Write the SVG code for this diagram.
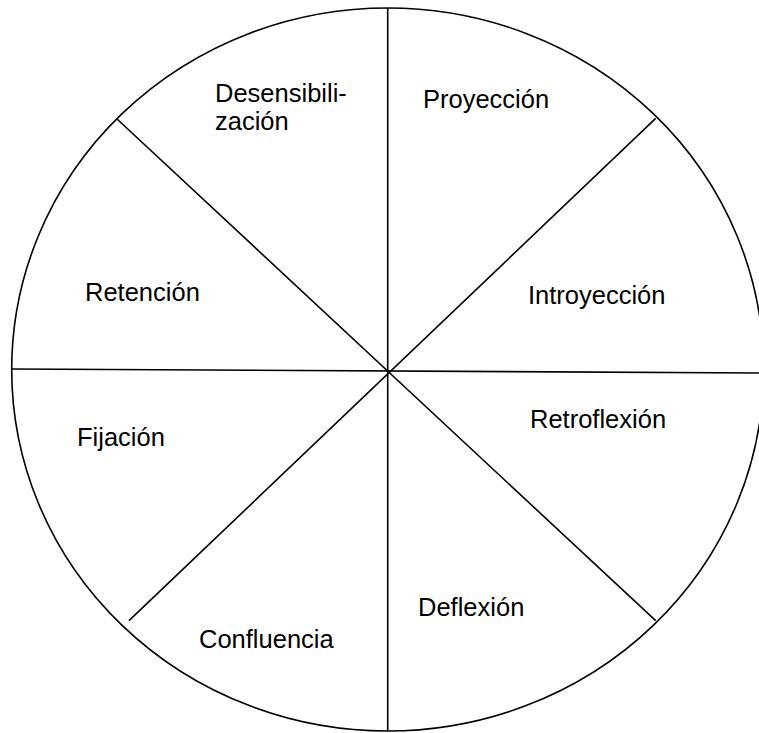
<svg xmlns="http://www.w3.org/2000/svg" width="759" height="733" viewBox="0 0 759 733">
<style>
.ln{stroke:#000;stroke-width:1.6;fill:none}
.t{font-family:"Liberation Sans",Arial,sans-serif;font-size:25.5px;fill:#000}
</style>
<rect width="759" height="733" fill="#fff"/>
<g id="wheel">
<ellipse class="ln" cx="387.7" cy="369.5" rx="376" ry="361.5"/>
</g>
<g id="connectors">
<line class="ln" x1="387.7" y1="8" x2="387.7" y2="731"/>
<line class="ln" x1="12" y1="369" x2="759" y2="373"/>
<line class="ln" x1="117" y1="119" x2="655.7" y2="620.7"/>
<line class="ln" x1="655.7" y1="118.3" x2="129" y2="620.7"/>
</g>
<g id="desensibilizacion"><text class="t" x="215" y="102">Desensibili-</text><text class="t" x="215" y="130">zación</text></g>
<g id="proyeccion"><text class="t" x="423" y="108">Proyección</text></g>
<g id="retencion"><text class="t" x="85" y="301">Retención</text></g>
<g id="introyeccion"><text class="t" x="528" y="304">Introyección</text></g>
<g id="retroflexion"><text class="t" x="530" y="428">Retroflexión</text></g>
<g id="fijacion"><text class="t" x="77" y="446">Fijación</text></g>
<g id="confluencia"><text class="t" x="199" y="648">Confluencia</text></g>
<g id="deflexion"><text class="t" x="418" y="616">Deflexión</text></g>
</svg>
